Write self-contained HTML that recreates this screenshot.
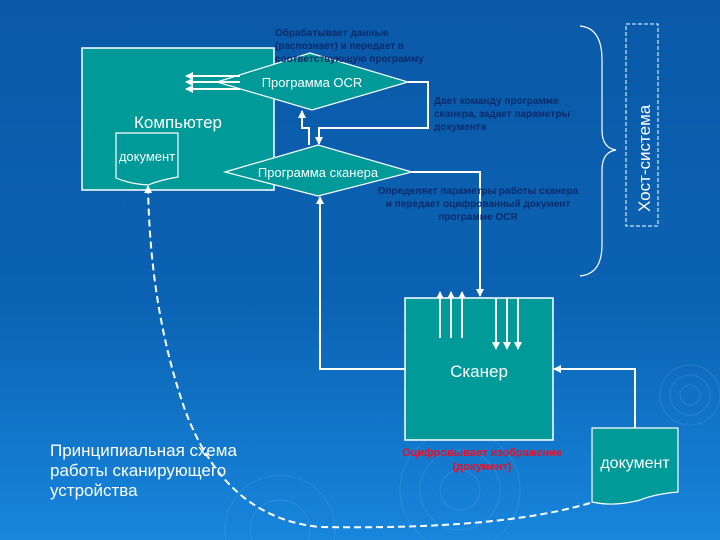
<!DOCTYPE html>
<html><head><meta charset="utf-8"><style>
html,body{margin:0;padding:0;width:720px;height:540px;overflow:hidden}
body{background:linear-gradient(180deg,#0a5aa8 0%,#0b62b2 55%,#1786dc 100%);font-family:"Liberation Sans",sans-serif;position:relative}
svg{position:absolute;left:0;top:0;display:block}
</style></head><body>
<svg width="720" height="540" xmlns="http://www.w3.org/2000/svg">
<defs>
<marker id="a" markerWidth="8" markerHeight="8" refX="7" refY="4" orient="auto" markerUnits="userSpaceOnUse"><path d="M0,0 L8,4 L0,8 z" fill="#fff"/></marker>
</defs>
<g fill="none" stroke="#5aa8e0" stroke-opacity="0.25" stroke-width="1.2">
<circle cx="690" cy="395" r="10"/><circle cx="690" cy="395" r="20"/><circle cx="690" cy="395" r="30"/>
<circle cx="460" cy="490" r="20"/><circle cx="460" cy="490" r="40"/><circle cx="460" cy="490" r="60"/>
<circle cx="280" cy="530" r="30"/><circle cx="280" cy="530" r="55"/>
</g>
<rect x="82" y="48" width="192" height="142" fill="#009a98" stroke="#fff" stroke-width="1.5"/>
<text x="178" y="128" fill="#fff" font-size="17" text-anchor="middle">Компьютер</text>
<path d="M116,133 H178 V177 Q160,180 148,185 Q130,184 116,178 Z" fill="#009a98" stroke="#fff" stroke-width="1.2"/>
<text x="147" y="161" fill="#fff" font-size="13" text-anchor="middle">документ</text>
<polygon points="217,82 310,53 408,82 312,110" fill="#009a98" stroke="#fff" stroke-width="1.2"/>
<text x="312" y="87" fill="#fff" font-size="13" text-anchor="middle">Программа OCR</text>
<polygon points="225,172 318,145 412,172 318,196" fill="#009a98" stroke="#fff" stroke-width="1.2"/>
<text x="318" y="177" fill="#fff" font-size="13" text-anchor="middle">Программа сканера</text>
<g stroke="#fff" stroke-width="2" fill="none">
<line x1="240" y1="76" x2="186" y2="76" marker-end="url(#a)"/>
<line x1="240" y1="82" x2="186" y2="82" marker-end="url(#a)"/>
<line x1="240" y1="89" x2="186" y2="89" marker-end="url(#a)"/>
<path d="M408,82 H428 V128 H319 V144" marker-end="url(#a)"/>
<path d="M309,145 V128 H302 V111" marker-end="url(#a)"/>
<path d="M412,172 H480 V296" marker-end="url(#a)"/>
<path d="M405,369 H320 V197" marker-end="url(#a)"/>
<path d="M635,428 V369 H554" marker-end="url(#a)"/>
<line x1="440" y1="338" x2="440" y2="292" marker-end="url(#a)"/>
<line x1="451" y1="338" x2="451" y2="292" marker-end="url(#a)"/>
<line x1="462" y1="338" x2="462" y2="292" marker-end="url(#a)"/>
<path d="M590,503 Q500,530 320,527 Q225,518 185,410 Q150,310 148,186" stroke-dasharray="7,4" marker-end="url(#a)"/>
<path d="M580,26 Q602,28 602,60 V130 Q602,148 616,150 Q602,152 602,170 V245 Q602,274 580,276" stroke-width="1.2"/>
</g>
<rect x="405" y="298" width="148" height="142" fill="#009a98" stroke="#fff" stroke-width="1.5"/>
<g stroke="#fff" stroke-width="2">
<line x1="440" y1="338" x2="440" y2="298"/><line x1="451" y1="338" x2="451" y2="298"/><line x1="462" y1="338" x2="462" y2="298"/>
<line x1="496" y1="298" x2="496" y2="345"/><line x1="507" y1="298" x2="507" y2="345"/><line x1="518" y1="298" x2="518" y2="345"/>
</g>
<path d="M496,350 l-4,-8 h8z M507,350 l-4,-8 h8z M518,350 l-4,-8 h8z" fill="#fff"/>
<text x="479" y="377" fill="#fff" font-size="17" text-anchor="middle">Сканер</text>
<path d="M592,428 H678 V492 Q655,494 640,500 Q615,507 592,502 Z" fill="#009a98" stroke="#fff" stroke-width="1.2"/>
<text x="635" y="468" fill="#fff" font-size="16" text-anchor="middle">документ</text>
<rect x="626" y="24" width="32" height="202" fill="none" stroke="#fff" stroke-width="1" stroke-dasharray="4,2"/>
<text transform="translate(650,212) rotate(-90)" fill="#fff" font-size="17">Хост-система</text>
<g fill="#0a2a6a" font-size="10" font-weight="bold">
<text x="275" y="36">Обрабатывает данные</text>
<text x="275" y="49">(распознает) и передает в</text>
<text x="275" y="62">соответствующую программу</text>
<text x="434" y="104">Дает команду программе</text>
<text x="434" y="117">сканера, задает параметры</text>
<text x="434" y="130">документа</text>
</g>
<g fill="#0a2a6a" font-size="10" font-weight="bold" text-anchor="middle">
<text x="478" y="194">Определяет параметры работы сканера</text>
<text x="478" y="207">и передает оцифрованный документ</text>
<text x="478" y="220">программе OCR</text>
</g>
<g fill="#e8102a" font-size="11" font-weight="bold" text-anchor="middle">
<text x="482" y="456">Оцифровывает изображение</text>
<text x="482" y="470">(документ)</text>
</g>
<g fill="#fff" font-size="17">
<text x="50" y="456">Принципиальная схема</text>
<text x="50" y="476">работы сканирующего</text>
<text x="50" y="496">устройства</text>
</g>
</svg>
</body></html>
